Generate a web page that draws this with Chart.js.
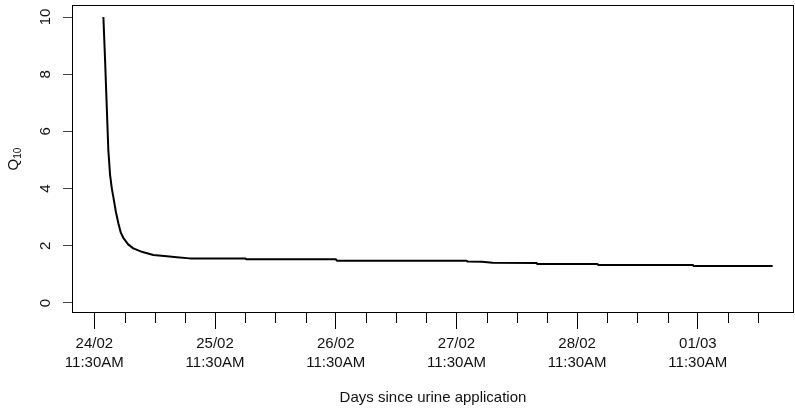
<!DOCTYPE html>
<html>
<head>
<meta charset="utf-8">
<script src="https://cdn.jsdelivr.net/npm/chart.js@4.4.1/dist/chart.umd.min.js"></script>
<style>
  body { margin: 0; background: #fff; }
</style>
</head>
<body>
<canvas id="myChart" width="795" height="414"></canvas>
<script>
// x: days since 24/02 11:30AM, y: Q10
const days = [0.075, 0.089, 0.103, 0.116, 0.130, 0.145, 0.157,
  0.178, 0.199, 0.220, 0.240, 0.280, 0.323, 0.400, 0.489, 0.580, 0.683,
  0.790, 1.250, 1.260, 2.000, 2.010, 3.085, 3.090, 3.210, 3.300, 3.665,
  3.670, 4.170, 4.175, 4.960, 4.965, 5.620];
const q10 = [10.0, 8.5, 6.86, 5.35, 4.5, 4.0, 3.72,
  3.2, 2.79, 2.45, 2.28, 2.05, 1.91, 1.78, 1.68, 1.64, 1.60,
  1.56, 1.56, 1.53, 1.53, 1.48, 1.48, 1.45, 1.44, 1.41, 1.40,
  1.36, 1.36, 1.33, 1.33, 1.29, 1.29];

const yTicks = [0, 2, 4, 6, 8, 10];
const dayTicks = [0, 1, 2, 3, 4, 5];
const dayLabels = [
  ['24/02', '11:30AM'],
  ['25/02', '11:30AM'],
  ['26/02', '11:30AM'],
  ['27/02', '11:30AM'],
  ['28/02', '11:30AM'],
  ['01/03', '11:30AM'],
];
const minorStep = 0.25; // every 6 hours
const lastMinor = 5.5;

const fontFamily = "'Liberation Sans', Arial, sans-serif";
const textColor = '#111';

// box, minor ticks, rotated y labels and y title (R style)
const rStyle = {
  id: 'rStyle',
  afterDraw(chart) {
    const ctx = chart.ctx;
    const area = chart.chartArea;
    const xs = chart.scales.x;
    const ys = chart.scales.y;
    ctx.save();
    ctx.strokeStyle = '#000';
    ctx.lineWidth = 1;
    ctx.strokeRect(Math.round(area.left) + 0.5, Math.round(area.top) + 0.5,
      Math.round(area.right - area.left) - 1, Math.round(area.bottom - area.top) - 1);

    // short minor ticks
    ctx.beginPath();
    xs.ticks.forEach(t => {
      if (dayTicks.indexOf(t.value) === -1) {
        const px = Math.round(xs.getPixelForValue(t.value)) + 0.5;
        ctx.moveTo(px, area.bottom);
        ctx.lineTo(px, area.bottom + 10);
      }
    });
    ctx.stroke();

    // y tick labels, parallel to the axis
    ctx.fillStyle = textColor;
    ctx.font = '15px ' + fontFamily;
    ctx.textAlign = 'center';
    ctx.textBaseline = 'middle';
    yTicks.forEach(v => {
      ctx.save();
      ctx.translate(46, ys.getPixelForValue(v));
      ctx.rotate(-Math.PI / 2);
      ctx.fillText(String(v), 0, 0);
      ctx.restore();
    });

    // y title Q10 with subscript
    ctx.save();
    ctx.translate(18, (area.top + area.bottom) / 2);
    ctx.rotate(-Math.PI / 2);
    ctx.textAlign = 'left';
    ctx.textBaseline = 'alphabetic';
    ctx.font = '15px ' + fontFamily;
    const qw = ctx.measureText('Q').width;
    ctx.font = '10px ' + fontFamily;
    const sw = ctx.measureText('10').width;
    const x0 = -(qw + sw) / 2;
    ctx.font = '15px ' + fontFamily;
    ctx.fillText('Q', x0, 0);
    ctx.font = '10px ' + fontFamily;
    ctx.fillText('10', x0 + qw, 3);
    ctx.restore();
    ctx.restore();
  }
};

const myChartRef = document.getElementById('myChart').getContext('2d');

new Chart(myChartRef, {
  type: 'line',
  data: {
    datasets: [
      {
        label: 'Q10',
        data: days.map((d, i) => ({ x: d, y: q10[i] })),
        borderColor: '#000',
        borderWidth: 2,
        borderJoinStyle: 'round',
        pointRadius: 0,
        tension: 0,
        fill: false,
      }
    ]
  },
  options: {
    responsive: false,
    animation: false,
    layout: { padding: { top: 5, right: 1, left: 0, bottom: 0 } },
    plugins: {
      legend: { display: false },
      tooltip: { enabled: false },
    },
    scales: {
      x: {
        type: 'linear',
        min: -0.185,
        max: 5.797,
        afterBuildTicks: scale => {
          const ticks = [];
          for (let v = 0; v <= lastMinor; v += minorStep) ticks.push({ value: v });
          scale.ticks = ticks;
        },
        afterFit: scale => { scale.height = 101; },
        border: { display: false },
        grid: {
          drawOnChartArea: false,
          tickLength: 16,
          tickWidth: 1,
          tickColor: c => (c.tick && dayTicks.indexOf(c.tick.value) !== -1) ? '#000' : 'rgba(0,0,0,0)',
        },
        ticks: {
          autoSkip: false,
          maxRotation: 0,
          padding: 6,
          color: textColor,
          font: { family: fontFamily, size: 15, lineHeight: 1.23 },
          callback: value => {
            const i = dayTicks.indexOf(value);
            return i === -1 ? '' : dayLabels[i];
          },
        },
        title: {
          display: true,
          text: 'Days since urine application',
          color: textColor,
          font: { family: fontFamily, size: 15, lineHeight: 1.2 },
          padding: { top: 0, bottom: 7 },
        },
      },
      y: {
        min: -0.35,
        max: 10.42,
        afterBuildTicks: scale => {
          scale.ticks = yTicks.map(v => ({ value: v }));
        },
        afterFit: scale => { scale.width = 72; },
        border: { display: false },
        grid: {
          drawOnChartArea: false,
          tickLength: 9,
          tickColor: '#444',
        },
        ticks: {
          display: false,
        },
      },
    },
  },
  plugins: [rStyle],
});
</script>
</body>
</html>
